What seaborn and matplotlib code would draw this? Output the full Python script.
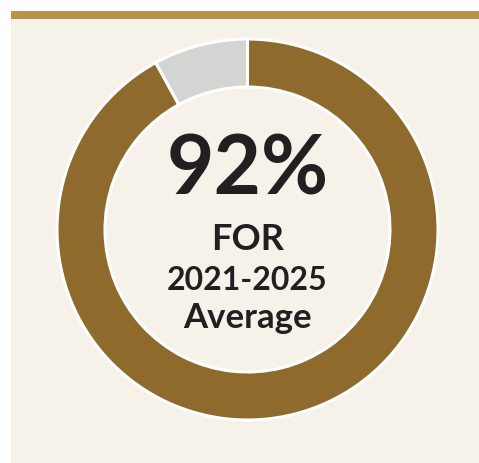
import matplotlib
matplotlib.use("Agg")
import matplotlib.pyplot as plt
from matplotlib.patches import Rectangle
import seaborn as sns

# Data
segments = ["Achieved", "Remaining"]
values = [92, 8]
headline = "92%"
lines = ["FOR", "2021-2025", "Average"]

BROWN = "#8E6A2C"
GREY = "#D4D4D2"
GOLD = "#B8934B"
PANEL = "#F6F1E9"
TEXT = "#231F20"

sns.set_theme(style="white")
plt.rcParams["font.family"] = ["Lato", "DejaVu Sans"]

W, H = 479, 463
fig = plt.figure(figsize=(W / 100, H / 100), dpi=100)
fig.patch.set_facecolor("white")

def px(x0, y0, x1, y1):
    # pixel box from top-left coordinates to figure fractions
    return (x0 / W, 1 - y1 / H, (x1 - x0) / W, (y1 - y0) / H)

bg = fig.add_axes([0, 0, 1, 1], zorder=-1)
bg.set_xlim(0, W)
bg.set_ylim(H, 0)
bg.axis("off")
bg.add_patch(Rectangle((11, 19), W - 11, H - 19, facecolor=PANEL, edgecolor="none"))
bg.add_patch(Rectangle((11, 11), W - 11, 8, facecolor=GOLD, edgecolor="none"))

cx, cy, R = 247.5, 229.5, 190.5
ax = fig.add_axes(px(cx - R, cy - R, cx + R, cy + R), zorder=1)
ax.set_facecolor("none")
palette = [BROWN, GREY]
ax.pie(values, colors=palette, startangle=90, counterclock=False, radius=1.0,
       wedgeprops=dict(width=48 / R, edgecolor="white", linewidth=2.2))
ax.set_xlim(-1, 1)
ax.set_ylim(-1, 1)
ax.set_aspect("equal")
ax.axis("off")

ax.text(0, 0.182, headline, ha="center", va="baseline", fontsize=59,
        fontweight="bold", color=TEXT)
ax.text(0, -0.108, lines[0], ha="center", va="baseline", fontsize=26,
        fontweight="bold", color=TEXT)
ax.text(0, -0.319, lines[1], ha="center", va="baseline", fontsize=23,
        fontweight="bold", color=TEXT)
ax.text(0, -0.515, lines[2], ha="center", va="baseline", fontsize=25,
        fontweight="bold", color=TEXT)

fig.savefig("out.png", dpi=100, facecolor=fig.get_facecolor())
